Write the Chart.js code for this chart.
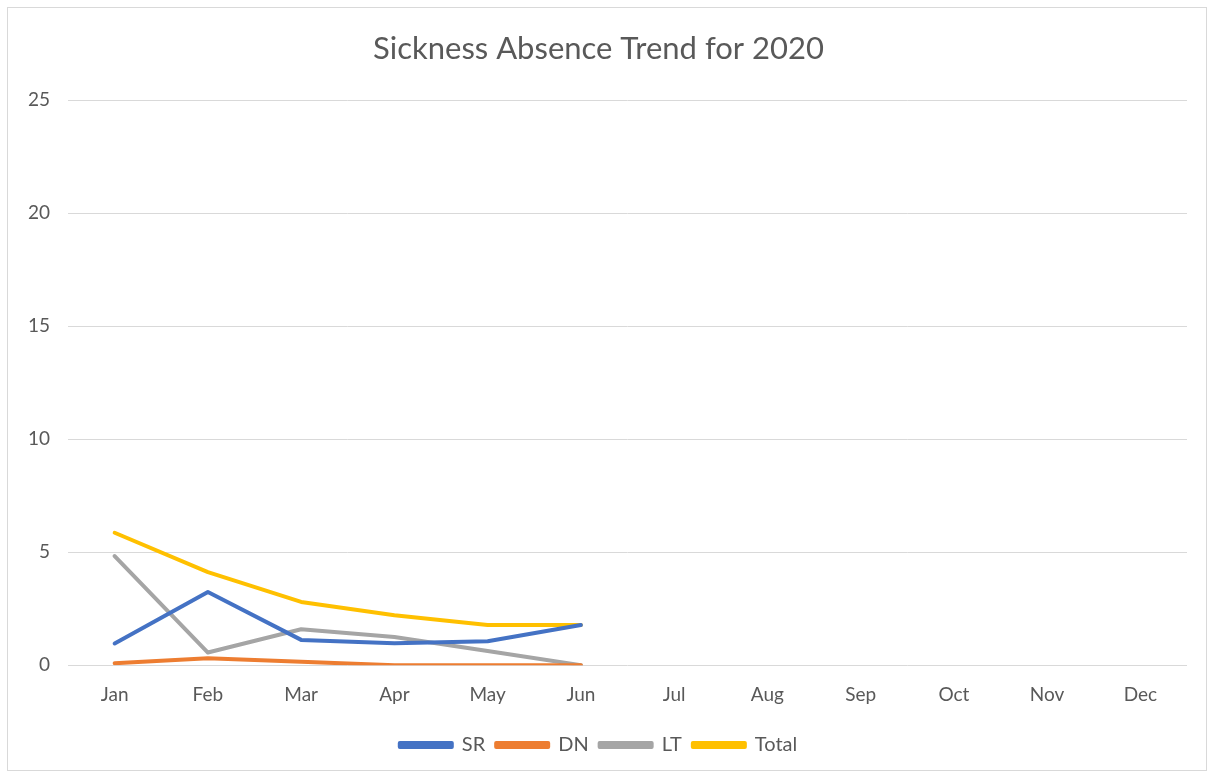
<!DOCTYPE html>
<html>
<head>
<meta charset="utf-8">
<script src="https://cdn.jsdelivr.net/npm/chart.js@4/dist/chart.umd.min.js"></script>
<style>
    body { margin: 0; background: #fff; }
    #wrap { position: absolute; left: 7px; top: 7px; width: 1200px; height: 764px; border: 1px solid #d9d9d9; box-sizing: border-box; }
</style>
</head>
<body>
<div id="wrap"><canvas id="chart"></canvas></div>
<script>
const months = ['Jan', 'Feb', 'Mar', 'Apr', 'May', 'Jun', 'Jul', 'Aug', 'Sep', 'Oct', 'Nov', 'Dec'];
const sr = [0.96, 3.24, 1.12, 0.97, 1.06, 1.78];
const dn = [0.09, 0.31, 0.15, 0.0, 0.0, 0.0];
const lt = [4.83, 0.56, 1.59, 1.25, 0.63, 0.0];
const total = [5.86, 4.12, 2.80, 2.21, 1.78, 1.78];

const font = 'Lato, "Liberation Sans", sans-serif';
const grey = '#595959';

function series(label, data, color) {
    return {
        label: label,
        data: data,
        borderColor: color,
        backgroundColor: color,
        borderWidth: 4,
        borderCapStyle: 'round',
        borderJoinStyle: 'round',
        pointRadius: 0,
        tension: 0
    };
}

new Chart(document.getElementById('chart'), {
    type: 'line',
    data: {
        labels: months,
        datasets: [
            series('SR', sr, '#4472c4'),
            series('DN', dn, '#ed7d31'),
            series('LT', lt, '#a5a5a5'),
            series('Total', total, '#ffc000')
        ]
    },
    options: {
        responsive: true,
        maintainAspectRatio: false,
        animation: false,
        layout: { padding: { left: 2, right: 19, top: 14, bottom: 5 } },
        plugins: {
            title: {
                display: true,
                text: 'Sickness Absence Trend for 2020',
                color: grey,
                font: { family: font, size: 31, weight: 'normal' },
                padding: { top: 8, bottom: 33 }
            },
            legend: {
                position: 'bottom',
                labels: {
                    color: grey,
                    font: { family: font, size: 20, lineHeight: 1.0 },
                    boxWidth: 52,
                    boxHeight: 4,
                    padding: 11
                }
            },
            tooltip: { enabled: false }
        },
        scales: {
            x: {
                offset: true,
                grid: { display: false, drawTicks: false },
                border: { display: false },
                ticks: { color: grey, font: { family: font, size: 19 }, padding: 18 }
            },
            y: {
                min: 0,
                max: 25,
                ticks: { stepSize: 5, color: grey, font: { family: font, size: 19 }, padding: 18 },
                grid: { color: '#d9d9d9', drawTicks: false },
                border: { display: false }
            }
        }
    }
});
</script>
</body>
</html>
